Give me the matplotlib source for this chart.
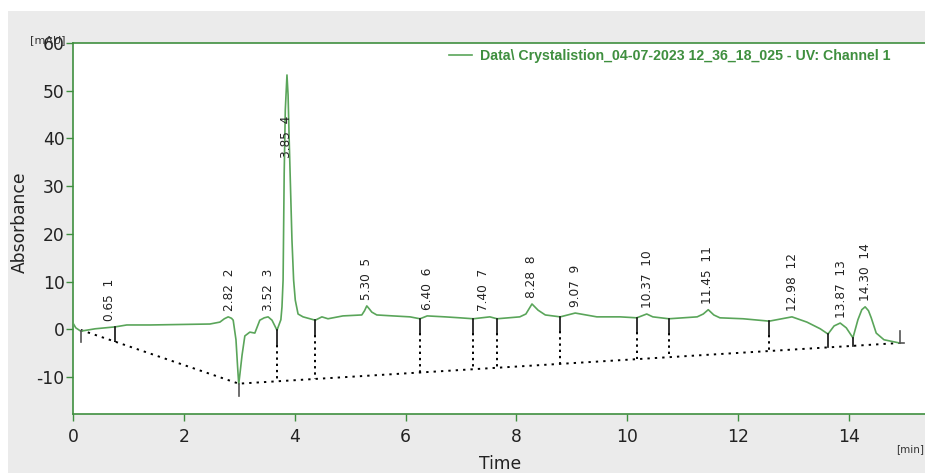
import matplotlib
matplotlib.use('Agg')
import matplotlib.pyplot as plt
import numpy as np

plt.rcParams['axes.unicode_minus'] = False

# chromatogram trace (min, mAU)
time = [0.00, 0.05, 0.14, 0.40, 0.76, 0.97, 1.39, 2.47, 2.65, 2.73, 2.80, 2.86, 2.89, 2.94,
        2.97, 2.99, 3.01, 3.05, 3.10, 3.19, 3.28, 3.37, 3.45, 3.52, 3.59, 3.68, 3.75, 3.77,
        3.79, 3.81, 3.83, 3.86, 3.88, 3.90, 3.95, 3.98, 4.01, 4.06, 4.15, 4.37, 4.49, 4.60,
        4.87, 5.21, 5.26, 5.30, 5.35, 5.39, 5.48, 5.77, 6.08, 6.26, 6.39, 6.71, 6.98, 7.22,
        7.52, 7.65, 8.06, 8.17, 8.28, 8.39, 8.52, 8.79, 9.06, 9.45, 9.87, 10.17, 10.35, 10.46,
        10.75, 11.26, 11.37, 11.46, 11.56, 11.67, 12.09, 12.56, 12.97, 13.24, 13.48, 13.62,
        13.73, 13.84, 13.95, 14.07, 14.16, 14.23, 14.29, 14.35, 14.40, 14.49, 14.63, 14.92]
signal = [1.3, 0.3, -0.4, 0.1, 0.5, 0.9, 0.9, 1.1, 1.5, 2.2, 2.6, 2.3, 1.9, -2.2,
          -8.0, -11.5, -9.5, -5.4, -1.4, -0.6, -0.8, 1.9, 2.4, 2.6, 1.9, -0.2, 2.0, 4.7,
          10.3, 32.8, 46.0, 53.3, 49.1, 39.7, 18.7, 10.3, 6.1, 3.2, 2.6, 1.9, 2.6, 2.2,
          2.8, 3.0, 3.9, 4.9, 4.2, 3.6, 3.0, 2.8, 2.6, 2.2, 2.8, 2.6, 2.4, 2.2,
          2.6, 2.2, 2.6, 3.2, 5.3, 4.0, 3.0, 2.6, 3.4, 2.6, 2.6, 2.4, 3.2, 2.6,
          2.2, 2.6, 3.2, 4.1, 3.0, 2.4, 2.2, 1.7, 2.6, 1.5, 0.1, -1.0,
          0.7, 1.3, 0.3, -1.8, 2.0, 4.1, 4.7, 3.9, 2.4, -0.8, -2.2, -2.9]

# integration results
peak_rt = [0.65, 2.82, 3.52, 3.85, 5.30, 6.40, 7.40, 8.28, 9.07, 10.37, 11.45, 12.98, 13.87, 14.30]
peak_no = list(range(1, 15))
bounds = [0.14, 0.76, 2.99, 3.68, 4.37, 6.26, 7.22, 7.65, 8.79, 10.17, 10.75, 12.56, 13.62, 14.07, 14.92]
base_t = [0.14, 2.99, 14.92]
base_v = [-0.15, -11.4, -2.87]

legend_label = 'Data\\ Crystalistion_04-07-2023 12_36_18_025 - UV: Channel 1'

green = '#3f8f3f'
trace_col = '#5aa55a'

fig = plt.figure(figsize=(9.25, 4.73), dpi=100)
fig.patch.set_facecolor('white')
fig.patches.append(plt.Rectangle((8 / 925, 0), 1, 1 - 11 / 473, transform=fig.transFigure,
                                 facecolor='#ebebeb', edgecolor='none', zorder=-10))

ax = fig.add_axes([73 / 925, 59 / 473, 852 / 925, 371 / 473])
ax.set_facecolor('white')
ax.plot(time, signal, color=trace_col, lw=1.2, label=legend_label, zorder=3)

# baseline + drop lines
ax.plot(base_t, base_v, color='black', lw=1.4, ls=(0, (1.2, 2.6)), zorder=2)
tb = np.array(bounds)
yt = np.interp(tb, time, signal)
yb = np.interp(tb, base_t, base_v)
for i, (t, a, b) in enumerate(zip(tb, yt, yb)):
    if i == 0 or t == base_t[1]:
        ax.plot([t, t], [a, b - 2.6], color='#555555', lw=1.2, zorder=4)
    elif i == len(tb) - 1:
        ax.plot([t, t], [b, b + 2.6], color='#555555', lw=1.2, zorder=4)
        ax.plot([t, t + 0.07], [b, b], color='#555555', lw=1.2, zorder=4)
    else:
        s = max(a - 3.0, b)
        ax.plot([t, t], [a, s], color='#111111', lw=1.2, zorder=4)
        if s > b:
            ax.plot([t, t], [s, b], color='black', lw=1.4, ls=(0, (1.2, 2.0)), zorder=2)

# peak labels
lab_y = np.minimum(np.interp(peak_rt, time, signal) + 1.3, 35.8)
for rt, n, ly in zip(peak_rt, peak_no, lab_y):
    ax.text(rt, ly, f'{rt:.2f}  {n}', rotation=90, ha='center', va='bottom',
            fontsize=8.7, color='#222222', zorder=5)

ax.set_xlim(0, 15.37)
ax.set_ylim(-17.76, 60)
ax.set_xticks(range(0, 15, 2))
ax.set_yticks(range(-10, 61, 10))
for s in ['left', 'top', 'bottom']:
    ax.spines[s].set_color(green)
    ax.spines[s].set_linewidth(1.2)
ax.spines['right'].set_visible(False)
ax.tick_params(axis='both', direction='out', length=5, width=1, color=green,
               labelcolor='#222222', labelsize=12.3)
ax.tick_params(axis='y', pad=1)
ax.tick_params(axis='x', pad=5)

fig.text(20 / 925, 1 - 222 / 473, 'Absorbance', rotation=90, ha='center', va='center',
         fontsize=12.3, color='#222222')
fig.text(500 / 925, 1 - 464 / 473, 'Time', ha='center', va='center', fontsize=12.3,
         color='#222222')
fig.text(30 / 925, 1 - 40 / 473, '[mAU]', ha='left', va='center', fontsize=8, color='#333333')
fig.text(896 / 925, 1 - 449 / 473, '[min]', ha='left', va='center', fontsize=7.5, color='#333333')

ax.legend(loc='upper right', bbox_to_anchor=(891 / 925, 1 - 49 / 473),
          bbox_transform=fig.transFigure, frameon=False, borderpad=0, borderaxespad=0,
          handlelength=1.6, handletextpad=0.6,
          prop={'family': 'Liberation Sans', 'weight': 'bold', 'size': 10.2},
          labelcolor=green)

fig.savefig('out.png', dpi=100)
